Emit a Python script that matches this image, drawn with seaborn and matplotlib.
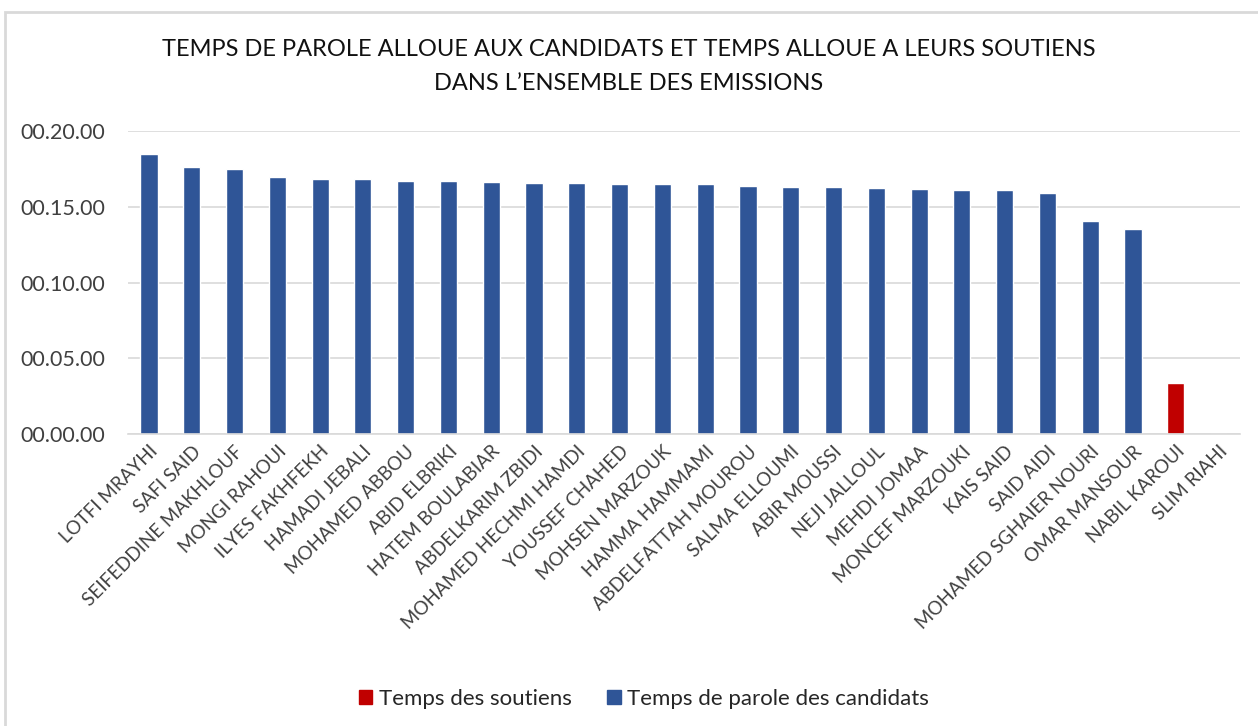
import seaborn as sns
import matplotlib.pyplot as plt
import matplotlib.patches as mpatches
import pandas as pd

# minutes per candidate
candidates = ["LOTFI MRAYHI", "SAFI SAID", "SEIFEDDINE MAKHLOUF", "MONGI RAHOUI",
              "ILYES FAKHFEKH", "HAMADI JEBALI", "MOHAMED ABBOU", "ABID ELBRIKI",
              "HATEM BOULABIAR", "ABDELKARIM ZBIDI", "MOHAMED HECHMI HAMDI",
              "YOUSSEF CHAHED", "MOHSEN MARZOUK", "HAMMA HAMMAMI",
              "ABDELFATTAH MOUROU", "SALMA ELLOUMI", "ABIR MOUSSI", "NEJI JALLOUL",
              "MEHDI JOMAA", "MONCEF MARZOUKI", "KAIS SAID", "SAID AIDI",
              "MOHAMED SGHAIER NOURI", "OMAR MANSOUR", "NABIL KAROUI", "SLIM RIAHI"]
temps_candidats = [18.46, 17.60, 17.47, 16.94, 16.85, 16.85, 16.70, 16.70, 16.63,
                   16.57, 16.57, 16.48, 16.48, 16.48, 16.39, 16.32, 16.32, 16.26,
                   16.17, 16.08, 16.08, 15.89, 14.06, 13.53, 0, 0]
temps_soutiens = [0] * 24 + [3.36, 0]

blue = "#2F5597"
red = "#C00000"

df = pd.concat([
    pd.DataFrame({"candidat": candidates, "minutes": temps_soutiens,
                  "serie": "Temps des soutiens"}),
    pd.DataFrame({"candidat": candidates, "minutes": temps_candidats,
                  "serie": "Temps de parole des candidats"}),
])

sns.set_style("white")
plt.rcParams['font.family'] = ['Lato', 'DejaVu Sans']

fig = plt.figure(figsize=(12.58, 7.26), dpi=100)
ax = fig.add_axes([127.6 / 1258, 1 - 434.3 / 726, (1240 - 127.6) / 1258, (434.3 - 131) / 726])

sns.barplot(data=df, x="candidat", y="minutes", hue="serie", dodge=False,
            palette={"Temps des soutiens": red, "Temps de parole des candidats": blue},
            width=0.4, saturation=1, ax=ax, legend=False, errorbar=None)

ax.set_ylim(0, 20)
ax.set_xlim(-0.5, len(candidates) - 0.5)
yt = [0, 5, 10, 15, 20]
ax.set_yticks(yt)
ax.set_yticklabels(["00.%02d.00" % v for v in yt], fontsize=15.5, color="#404040")
ax.set_xticks(range(len(candidates)))
ax.set_xticklabels(candidates, rotation=45, ha="right", rotation_mode="anchor",
                   fontsize=13.5, color="#404040")
ax.tick_params(axis="y", length=0, pad=16)
ax.tick_params(axis="x", length=0, pad=6)
ax.set_xlabel("")
ax.set_ylabel("")
ax.grid(axis="y", color="#D9D9D9", linewidth=1.2)
ax.set_axisbelow(True)
for s in ["top", "right", "left"]:
    ax.spines[s].set_visible(False)
ax.spines["bottom"].set_color("#D9D9D9")
ax.spines["bottom"].set_linewidth(1.2)

fig.text(0.5, 1 - 50 / 726, "TEMPS DE PAROLE ALLOUE AUX CANDIDATS ET TEMPS ALLOUE A LEURS SOUTIENS",
         ha="center", va="center", fontsize=17, color="#111111")
fig.text(0.5, 1 - 84 / 726, "DANS L\u2019ENSEMBLE DES EMISSIONS",
         ha="center", va="center", fontsize=17, color="#111111")

handles = [mpatches.Patch(color=red, label="Temps des soutiens"),
           mpatches.Patch(color=blue, label="Temps de parole des candidats")]
fig.legend(handles=handles, loc="center", bbox_to_anchor=(0.512, 1 - 699 / 726), ncol=2,
           frameon=False, fontsize=16, handlelength=0.6, handleheight=0.6,
           handletextpad=0.3, columnspacing=1.6, labelcolor="#262626")

# light frame around the chart area
fig.patches.append(mpatches.Rectangle((5 / 1258, -0.01), 1.1, 1 - 12 / 726 + 0.01,
                                      transform=fig.transFigure, fill=False,
                                      edgecolor="#D9D9D9", linewidth=2))

fig.savefig("out.png", dpi=100)
